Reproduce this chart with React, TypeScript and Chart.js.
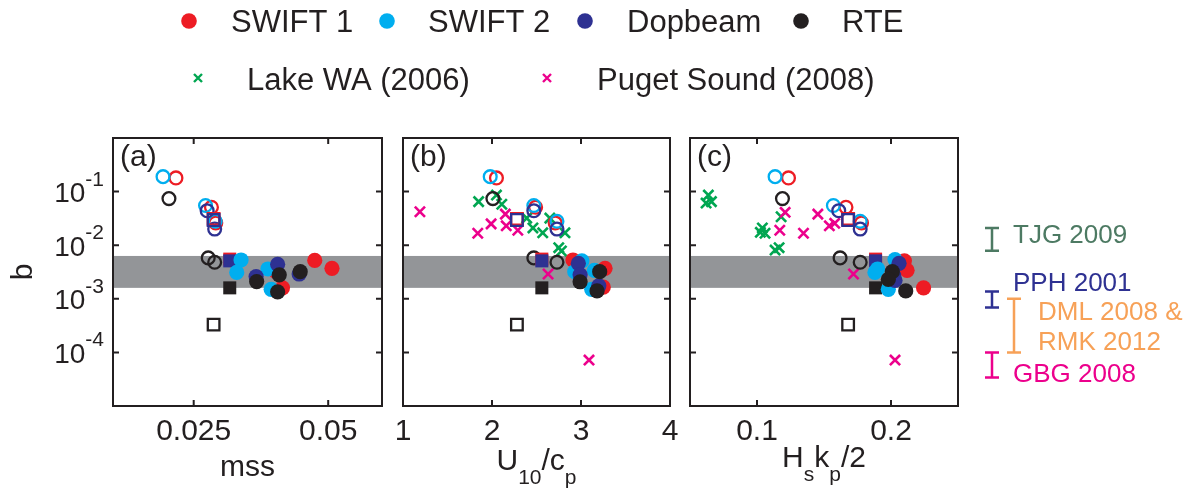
import React, { useEffect, useRef } from 'react';
import { Chart, registerables } from 'chart.js';

Chart.register(...registerables);

const W = 1193;
const H = 495;
const FAMILY = '"Liberation Sans", Arial, Helvetica, sans-serif';
const INK = '#231f20';
const RED = '#ed1c24';
const CYAN = '#00aeef';
const NAVY = '#2e3192';
const BLACK = '#231f20';
const GREEN = '#00a651';
const MAGENTA = '#ec008c';
const BAND_GRAY = '#939598';

// ---------- y axis (b), shared ----------
const B_MIN = 1e-5;
const B_MAX = 1;
const B_TICK_EXPONENTS = [-1, -2, -3, -4];
const BAND = [1.6e-3, 6.3e-3];

// ---------- open circles: b values (same in every panel) ----------
const bSwift1Open = [0.18, 0.051, 0.026];
const bSwift2Open = [0.19, 0.055, 0.028];
const bDopOpen = [0.044, 0.02];
const bRteOpen = [0.074, 0.0058, 0.0048];

// ---------- squares: b values [filled, open] ----------
const bSqSwift1 = [0.0055, 0.031];
const bSqDop = [0.0051, 0.0295];
const bSqRte = [0.0016, 3.3e-4];

// ---------- panel (a): x = mss ----------
const mssSwift1 = [0.0475, 0.0507, 0.0403, 0.0415];
const bSwift1A = [5.2e-3, 3.7e-3, 3.2e-3, 1.6e-3];
const mssSwift2 = [0.0338, 0.0388, 0.033, 0.0394];
const bSwift2A = [5.3e-3, 3.6e-3, 3.1e-3, 1.5e-3];
const mssDop = [0.0406, 0.0446, 0.0366];
const bDopA = [4.4e-3, 2.9e-3, 2.6e-3];
const mssRte = [0.0448, 0.0409, 0.0367, 0.0406];
const bRteA = [3.2e-3, 2.8e-3, 2.1e-3, 1.35e-3];
const mssSwift1Open = [0.0217, 0.0283, 0.0291];
const mssSwift2Open = [0.0193, 0.0272, 0.029];
const mssDopOpen = [0.0275, 0.0289];
const mssRteOpen = [0.0204, 0.0277, 0.0289];
const mssSquares = [0.0317, 0.0287];
const mssTicks = [0.025, 0.05];
const mssTickLabels = ['0.025', '0.05'];

// ---------- panel (b): x = U10/cp ----------
const uSwift1 = [2.91, 3.27, 2.95, 3.25];
const bSwift1B = [5.3e-3, 3.7e-3, 3.4e-3, 1.65e-3];
const uSwift2 = [3.01, 3.15, 2.93, 3.12];
const bSwift2B = [5.1e-3, 3.4e-3, 3.2e-3, 1.5e-3];
const uDop = [2.97, 2.99, 3.2];
const bDopB = [4.6e-3, 2.8e-3, 1.75e-3];
const uRte = [3.21, 2.99, 3.18];
const bRteB = [3.2e-3, 2.08e-3, 1.4e-3];
const uSwift1Open = [2.05, 2.49, 2.71];
const uSwift2Open = [1.98, 2.47, 2.73];
const uDopOpen = [2.47, 2.73];
const uRteOpen = [2.01, 2.47, 2.73];
const uSquares = [2.56, 2.28];
const uLake = [1.85, 2.05, 2.11, 2.39, 2.46, 2.57, 2.65, 2.82, 2.75, 2.78];
const bLakeB = [0.065, 0.086, 0.058, 0.032, 0.021, 0.017, 0.032, 0.017, 0.009, 0.0078];
const uPuget = [1.19, 1.84, 1.99, 2.15, 2.16, 2.29, 2.63, 3.09];
const bPugetB = [0.042, 0.0167, 0.025, 0.038, 0.023, 0.019, 0.0029, 7.2e-5];
const uTicks = [1, 2, 3, 4];
const uTickLabels = ['1', '2', '3', '4'];

// ---------- panel (c): x = Hs kp / 2 ----------
const hkSwift1 = [0.21, 0.209, 0.212, 0.2243];
const bSwift1C = [5.1e-3, 4.0e-3, 3.4e-3, 1.6e-3];
const hkSwift2 = [0.203, 0.19, 0.188, 0.198];
const bSwift2C = [5.4e-3, 3.6e-3, 3.1e-3, 1.5e-3];
const hkDop = [0.206, 0.202, 0.203];
const bDopC = [4.6e-3, 2.7e-3, 2.2e-3];
const hkRte = [0.201, 0.198, 0.211];
const bRteC = [3.2e-3, 2.3e-3, 1.4e-3];
const hkSwift1Open = [0.1235, 0.1664, 0.178];
const hkSwift2Open = [0.1135, 0.157, 0.177];
const hkDopOpen = [0.161, 0.177];
const hkRteOpen = [0.119, 0.162, 0.177];
const hkSquares = [0.1885, 0.168];
const hkLake = [0.0637, 0.066, 0.062, 0.104, 0.1025, 0.106, 0.118, 0.1135, 0.1165];
const bLakeC = [0.086, 0.065, 0.061, 0.021, 0.0174, 0.0167, 0.034, 0.0081, 0.009];
const hkPuget = [0.121, 0.117, 0.1347, 0.1454, 0.154, 0.158, 0.172, 0.203];
const bPugetC = [0.041, 0.019, 0.0167, 0.038, 0.023, 0.0256, 0.0029, 7.2e-5];
const hkTicks = [0.1, 0.2];
const hkTickLabels = ['0.1', '0.2'];

// ---------- legend & literature ranges ----------
const LEGEND_ROW1 = ['SWIFT 1', 'SWIFT 2', 'Dopbeam', 'RTE'];
const LEGEND_ROW1_COLORS = [RED, CYAN, NAVY, BLACK];
const LEGEND_ROW2 = ['Lake WA (2006)', 'Puget Sound (2008)'];
const LEGEND_ROW2_COLORS = [GREEN, MAGENTA];

const REF_LABELS = [['TJG 2009'], ['PPH 2001'], ['DML 2008 &', 'RMK 2012'], ['GBG 2008']];
const REF_LOW = [0.0079, 6.9e-4, 1e-4, 3.4e-5];
const REF_HIGH = [0.021, 1.37e-3, 1e-3, 1e-4];
const REF_COLORS = ['#4d7a63', NAVY, '#f7a157', MAGENTA];

// ---------- helpers ----------
const zip = (xs: number[], bs: number[]) => xs.map((x, i) => ({ x, y: bs[i] }));
const font = (s: number) => `${s}px ${FAMILY}`;
const TRANSPARENT = 'rgba(0,0,0,0)';

type Part = { t: string; sub?: boolean };

interface PanelCfg {
  key: string;
  left: number;
  right: number;
  xMin: number;
  xMax: number;
  xTicks: number[];
  xLabels: string[];
  letter: string;
  title: Part[];
  titleBaseline: number;
  datasets: any[];
  extra?: (chart: any) => void;
}

function filledCircle(data: any[], color: string) {
  return { data, pointStyle: 'circle', pointRadius: 7.6, pointBackgroundColor: color, pointBorderColor: color, pointBorderWidth: 0 };
}
function openCircle(data: any[], color: string) {
  return { data, pointStyle: 'circle', pointRadius: 6.4, pointBackgroundColor: TRANSPARENT, pointBorderColor: color, pointBorderWidth: 2.3 };
}
function filledSquare(data: any[], color: string) {
  return { data, pointStyle: 'rect', pointRadius: 9.2, pointBackgroundColor: color, pointBorderColor: color, pointBorderWidth: 0 };
}
function openSquare(data: any[], color: string) {
  return { data, pointStyle: 'rect', pointRadius: 8.2, pointBackgroundColor: TRANSPARENT, pointBorderColor: color, pointBorderWidth: 2.3 };
}
function cross(data: any[], color: string) {
  return { data, pointStyle: 'crossRot', pointRadius: 7.2, pointBackgroundColor: color, pointBorderColor: color, pointBorderWidth: 2.6 };
}

function buildDatasets(o: {
  sq: number[];
  s1: any[]; s2: any[]; dp: any[]; rt: any[];
  s1o: any[]; s2o: any[]; dpo: any[]; rto: any[];
  lake?: any[]; puget?: any[];
}) {
  const list: any[] = [];
  if (o.lake) list.push(cross(o.lake, GREEN));
  if (o.puget) list.push(cross(o.puget, MAGENTA));
  list.push(openCircle(o.rto, BLACK));
  list.push(openCircle(o.s1o, RED));
  list.push(openCircle(o.s2o, CYAN));
  list.push(openCircle(o.dpo, NAVY));
  list.push(openSquare([{ x: o.sq[1], y: bSqSwift1[1] }], RED));
  list.push(openSquare([{ x: o.sq[1], y: bSqDop[1] }], NAVY));
  list.push(openSquare([{ x: o.sq[1], y: bSqRte[1] }], BLACK));
  list.push(filledSquare([{ x: o.sq[0], y: bSqSwift1[0] }], RED));
  list.push(filledSquare([{ x: o.sq[0], y: bSqDop[0] }], NAVY));
  list.push(filledSquare([{ x: o.sq[0], y: bSqRte[0] }], BLACK));
  list.push(filledCircle(o.s1, RED));
  list.push(filledCircle(o.s2, CYAN));
  list.push(filledCircle(o.dp, NAVY));
  list.push(filledCircle(o.rt, BLACK));
  const n = list.length;
  return list.map((d, i) => ({ ...d, showLine: false, order: n - i }));
}

function drawRich(ctx: CanvasRenderingContext2D, parts: Part[], cx: number, baseline: number) {
  const MAIN = 30;
  const SUB = 21;
  let total = 0;
  const widths = parts.map((p) => {
    ctx.font = font(p.sub ? SUB : MAIN);
    const w = ctx.measureText(p.t).width;
    total += w;
    return w;
  });
  let x = cx - total / 2;
  ctx.textAlign = 'left';
  ctx.textBaseline = 'alphabetic';
  parts.forEach((p, i) => {
    ctx.font = font(p.sub ? SUB : MAIN);
    ctx.fillText(p.t, x, baseline + (p.sub ? 14 : 0));
    x += widths[i];
  });
}

function drawYAxisText(chart: any) {
  const { ctx } = chart;
  const y = chart.scales.y;
  ctx.save();
  ctx.fillStyle = INK;
  ctx.textBaseline = 'alphabetic';
  ctx.textAlign = 'right';
  const RIGHT = 104;
  for (const e of B_TICK_EXPONENTS) {
    const py = y.getPixelForValue(Math.pow(10, e));
    const sup = String(e);
    ctx.font = font(21);
    const ws = ctx.measureText(sup).width;
    ctx.fillText(sup, RIGHT, py - 6);
    ctx.font = font(28);
    ctx.fillText('10', RIGHT - ws, py + 10.5);
  }
  // axis title "b"
  ctx.save();
  ctx.translate(31.5, (chart.chartArea.top + chart.chartArea.bottom) / 2);
  ctx.rotate(-Math.PI / 2);
  ctx.textAlign = 'center';
  ctx.font = font(30);
  ctx.fillText('b', 0, 0);
  ctx.restore();
  ctx.restore();
}

function drawLegend(chart: any) {
  const { ctx } = chart;
  ctx.save();
  const row1Marker = [189, 387, 585, 801];
  const row1Text = [231, 428, 627, 842];
  ctx.font = font(31);
  ctx.textBaseline = 'alphabetic';
  ctx.textAlign = 'left';
  LEGEND_ROW1.forEach((label, i) => {
    ctx.fillStyle = LEGEND_ROW1_COLORS[i];
    ctx.beginPath();
    ctx.arc(row1Marker[i], 21, 7.8, 0, Math.PI * 2);
    ctx.fill();
    ctx.fillStyle = INK;
    ctx.fillText(label, row1Text[i], 31.5);
  });
  const row2Marker = [198, 547];
  const row2Text = [247, 597];
  LEGEND_ROW2.forEach((label, i) => {
    ctx.strokeStyle = LEGEND_ROW2_COLORS[i];
    ctx.lineWidth = 2.4;
    const cx = row2Marker[i];
    const cy = 78;
    const s = 4;
    ctx.beginPath();
    ctx.moveTo(cx - s, cy - s);
    ctx.lineTo(cx + s, cy + s);
    ctx.moveTo(cx + s, cy - s);
    ctx.lineTo(cx - s, cy + s);
    ctx.stroke();
    ctx.fillStyle = INK;
    ctx.fillText(label, row2Text[i], 90);
  });
  ctx.restore();
}

function drawReferences(chart: any) {
  const { ctx } = chart;
  const y = chart.scales.y;
  const barX = [992, 992, 1014, 992];
  const textX = [1013, 1013, 1038, 1013];
  const textY = [243, 290.5, 320, 381.5];
  ctx.save();
  ctx.lineWidth = 2.5;
  ctx.font = font(26);
  ctx.textAlign = 'left';
  ctx.textBaseline = 'alphabetic';
  REF_LABELS.forEach((lines, i) => {
    const top = y.getPixelForValue(REF_HIGH[i]);
    const bot = y.getPixelForValue(REF_LOW[i]);
    const x = barX[i];
    const cap = 7;
    ctx.strokeStyle = REF_COLORS[i];
    ctx.beginPath();
    ctx.moveTo(x, top);
    ctx.lineTo(x, bot);
    ctx.moveTo(x - cap, top);
    ctx.lineTo(x + cap, top);
    ctx.moveTo(x - cap, bot);
    ctx.lineTo(x + cap, bot);
    ctx.stroke();
    ctx.fillStyle = REF_COLORS[i];
    lines.forEach((ln, j) => ctx.fillText(ln, textX[i], textY[i] + j * 30));
  });
  ctx.restore();
}

function makePlugin(p: PanelCfg) {
  return {
    id: 'panelDecor',
    beforeDatasetsDraw(chart: any) {
      const { ctx, chartArea: ca } = chart;
      const y = chart.scales.y;
      const t = y.getPixelForValue(BAND[1]);
      const b = y.getPixelForValue(BAND[0]);
      ctx.save();
      ctx.fillStyle = BAND_GRAY;
      ctx.fillRect(ca.left, t, ca.right - ca.left, b - t);
      ctx.restore();
    },
    afterDatasetsDraw(chart: any) {
      const { ctx, chartArea: ca } = chart;
      const x = chart.scales.x;
      const y = chart.scales.y;
      ctx.save();
      ctx.strokeStyle = INK;
      ctx.lineWidth = 2;
      ctx.strokeRect(ca.left, ca.top, ca.right - ca.left, ca.bottom - ca.top);
      const TL = 6;
      ctx.beginPath();
      for (const e of B_TICK_EXPONENTS) {
        const py = y.getPixelForValue(Math.pow(10, e));
        ctx.moveTo(ca.left, py);
        ctx.lineTo(ca.left + TL, py);
        ctx.moveTo(ca.right, py);
        ctx.lineTo(ca.right - TL, py);
      }
      for (const v of p.xTicks) {
        const px = x.getPixelForValue(v);
        if (px <= ca.left + 1 || px >= ca.right - 1) continue;
        ctx.moveTo(px, ca.bottom);
        ctx.lineTo(px, ca.bottom - TL);
        ctx.moveTo(px, ca.top);
        ctx.lineTo(px, ca.top + TL);
      }
      ctx.stroke();
      ctx.fillStyle = INK;
      ctx.font = font(30);
      ctx.textAlign = 'left';
      ctx.textBaseline = 'alphabetic';
      ctx.fillText(p.letter, ca.left + 7, 166);
      drawRich(ctx, p.title, (ca.left + ca.right) / 2, p.titleBaseline);
      ctx.restore();
      if (p.extra) p.extra(chart);
    },
  };
}

const PLOT_TOP = 138;
const PLOT_BOTTOM = 406;
const X_AXIS_BOX = 60;

const PANELS: PanelCfg[] = [
  {
    key: 'a',
    left: 113,
    right: 382,
    xMin: 0.01,
    xMax: 0.06,
    xTicks: mssTicks,
    xLabels: mssTickLabels,
    letter: '(a)',
    title: [{ t: 'mss' }],
    titleBaseline: 476,
    datasets: buildDatasets({
      sq: mssSquares,
      s1: zip(mssSwift1, bSwift1A),
      s2: zip(mssSwift2, bSwift2A),
      dp: zip(mssDop, bDopA),
      rt: zip(mssRte, bRteA),
      s1o: zip(mssSwift1Open, bSwift1Open),
      s2o: zip(mssSwift2Open, bSwift2Open),
      dpo: zip(mssDopOpen, bDopOpen),
      rto: zip(mssRteOpen, bRteOpen),
    }),
    extra: (chart) => {
      drawYAxisText(chart);
      drawLegend(chart);
    },
  },
  {
    key: 'b',
    left: 403,
    right: 670,
    xMin: 1,
    xMax: 4,
    xTicks: uTicks,
    xLabels: uTickLabels,
    letter: '(b)',
    title: [{ t: 'U' }, { t: '10', sub: true }, { t: '/c' }, { t: 'p', sub: true }],
    titleBaseline: 470,
    datasets: buildDatasets({
      sq: uSquares,
      s1: zip(uSwift1, bSwift1B),
      s2: zip(uSwift2, bSwift2B),
      dp: zip(uDop, bDopB),
      rt: zip(uRte, bRteB),
      s1o: zip(uSwift1Open, bSwift1Open),
      s2o: zip(uSwift2Open, bSwift2Open),
      dpo: zip(uDopOpen, bDopOpen),
      rto: zip(uRteOpen, bRteOpen),
      lake: zip(uLake, bLakeB),
      puget: zip(uPuget, bPugetB),
    }),
  },
  {
    key: 'c',
    left: 690,
    right: 958,
    xMin: 0.05,
    xMax: 0.25,
    xTicks: hkTicks,
    xLabels: hkTickLabels,
    letter: '(c)',
    title: [{ t: 'H' }, { t: 's', sub: true }, { t: 'k' }, { t: 'p', sub: true }, { t: '/2' }],
    titleBaseline: 467,
    datasets: buildDatasets({
      sq: hkSquares,
      s1: zip(hkSwift1, bSwift1C),
      s2: zip(hkSwift2, bSwift2C),
      dp: zip(hkDop, bDopC),
      rt: zip(hkRte, bRteC),
      s1o: zip(hkSwift1Open, bSwift1Open),
      s2o: zip(hkSwift2Open, bSwift2Open),
      dpo: zip(hkDopOpen, bDopOpen),
      rto: zip(hkRteOpen, bRteOpen),
      lake: zip(hkLake, bLakeC),
      puget: zip(hkPuget, bPugetC),
    }),
    extra: drawReferences,
  },
];

function Panel({ cfg }: { cfg: PanelCfg }) {
  const ref = useRef<HTMLCanvasElement | null>(null);
  useEffect(() => {
    if (!ref.current) return;
    const chart = new Chart(ref.current, {
      type: 'scatter',
      data: { datasets: cfg.datasets },
      options: {
        animation: false,
        responsive: false,
        events: [],
        layout: {
          padding: { left: cfg.left, right: W - cfg.right, top: PLOT_TOP, bottom: H - PLOT_BOTTOM - X_AXIS_BOX },
        },
        plugins: { legend: { display: false }, tooltip: { enabled: false }, title: { display: false } },
        scales: {
          x: {
            type: 'linear',
            min: cfg.xMin,
            max: cfg.xMax,
            grid: { display: false, drawTicks: false },
            border: { display: false },
            afterBuildTicks: (scale: any) => {
              scale.ticks = cfg.xTicks.map((v) => ({ value: v }));
            },
            afterFit: (scale: any) => {
              scale.height = X_AXIS_BOX;
            },
            ticks: {
              autoSkip: false,
              maxRotation: 0,
              minRotation: 0,
              padding: 8,
              color: INK,
              font: { family: FAMILY, size: 30 },
              callback: (_v: any, i: number) => cfg.xLabels[i],
            },
          },
          y: {
            type: 'logarithmic',
            min: B_MIN,
            max: B_MAX,
            grid: { display: false, drawTicks: false },
            border: { display: false },
            ticks: { display: false },
            afterFit: (scale: any) => {
              scale.width = 0;
            },
          },
        },
      } as any,
      plugins: [makePlugin(cfg)],
    });
    return () => chart.destroy();
  }, [cfg]);
  return (
    <canvas
      ref={ref}
      width={W}
      height={H}
      style={{ position: 'absolute', left: 0, top: 0, width: W, height: H }}
    />
  );
}

export default function App() {
  return (
    <div style={{ position: 'absolute', left: 0, top: 0, width: W, height: H, background: '#ffffff', overflow: 'hidden' }}>
      {PANELS.map((p) => (
        <Panel key={p.key} cfg={p} />
      ))}
    </div>
  );
}
